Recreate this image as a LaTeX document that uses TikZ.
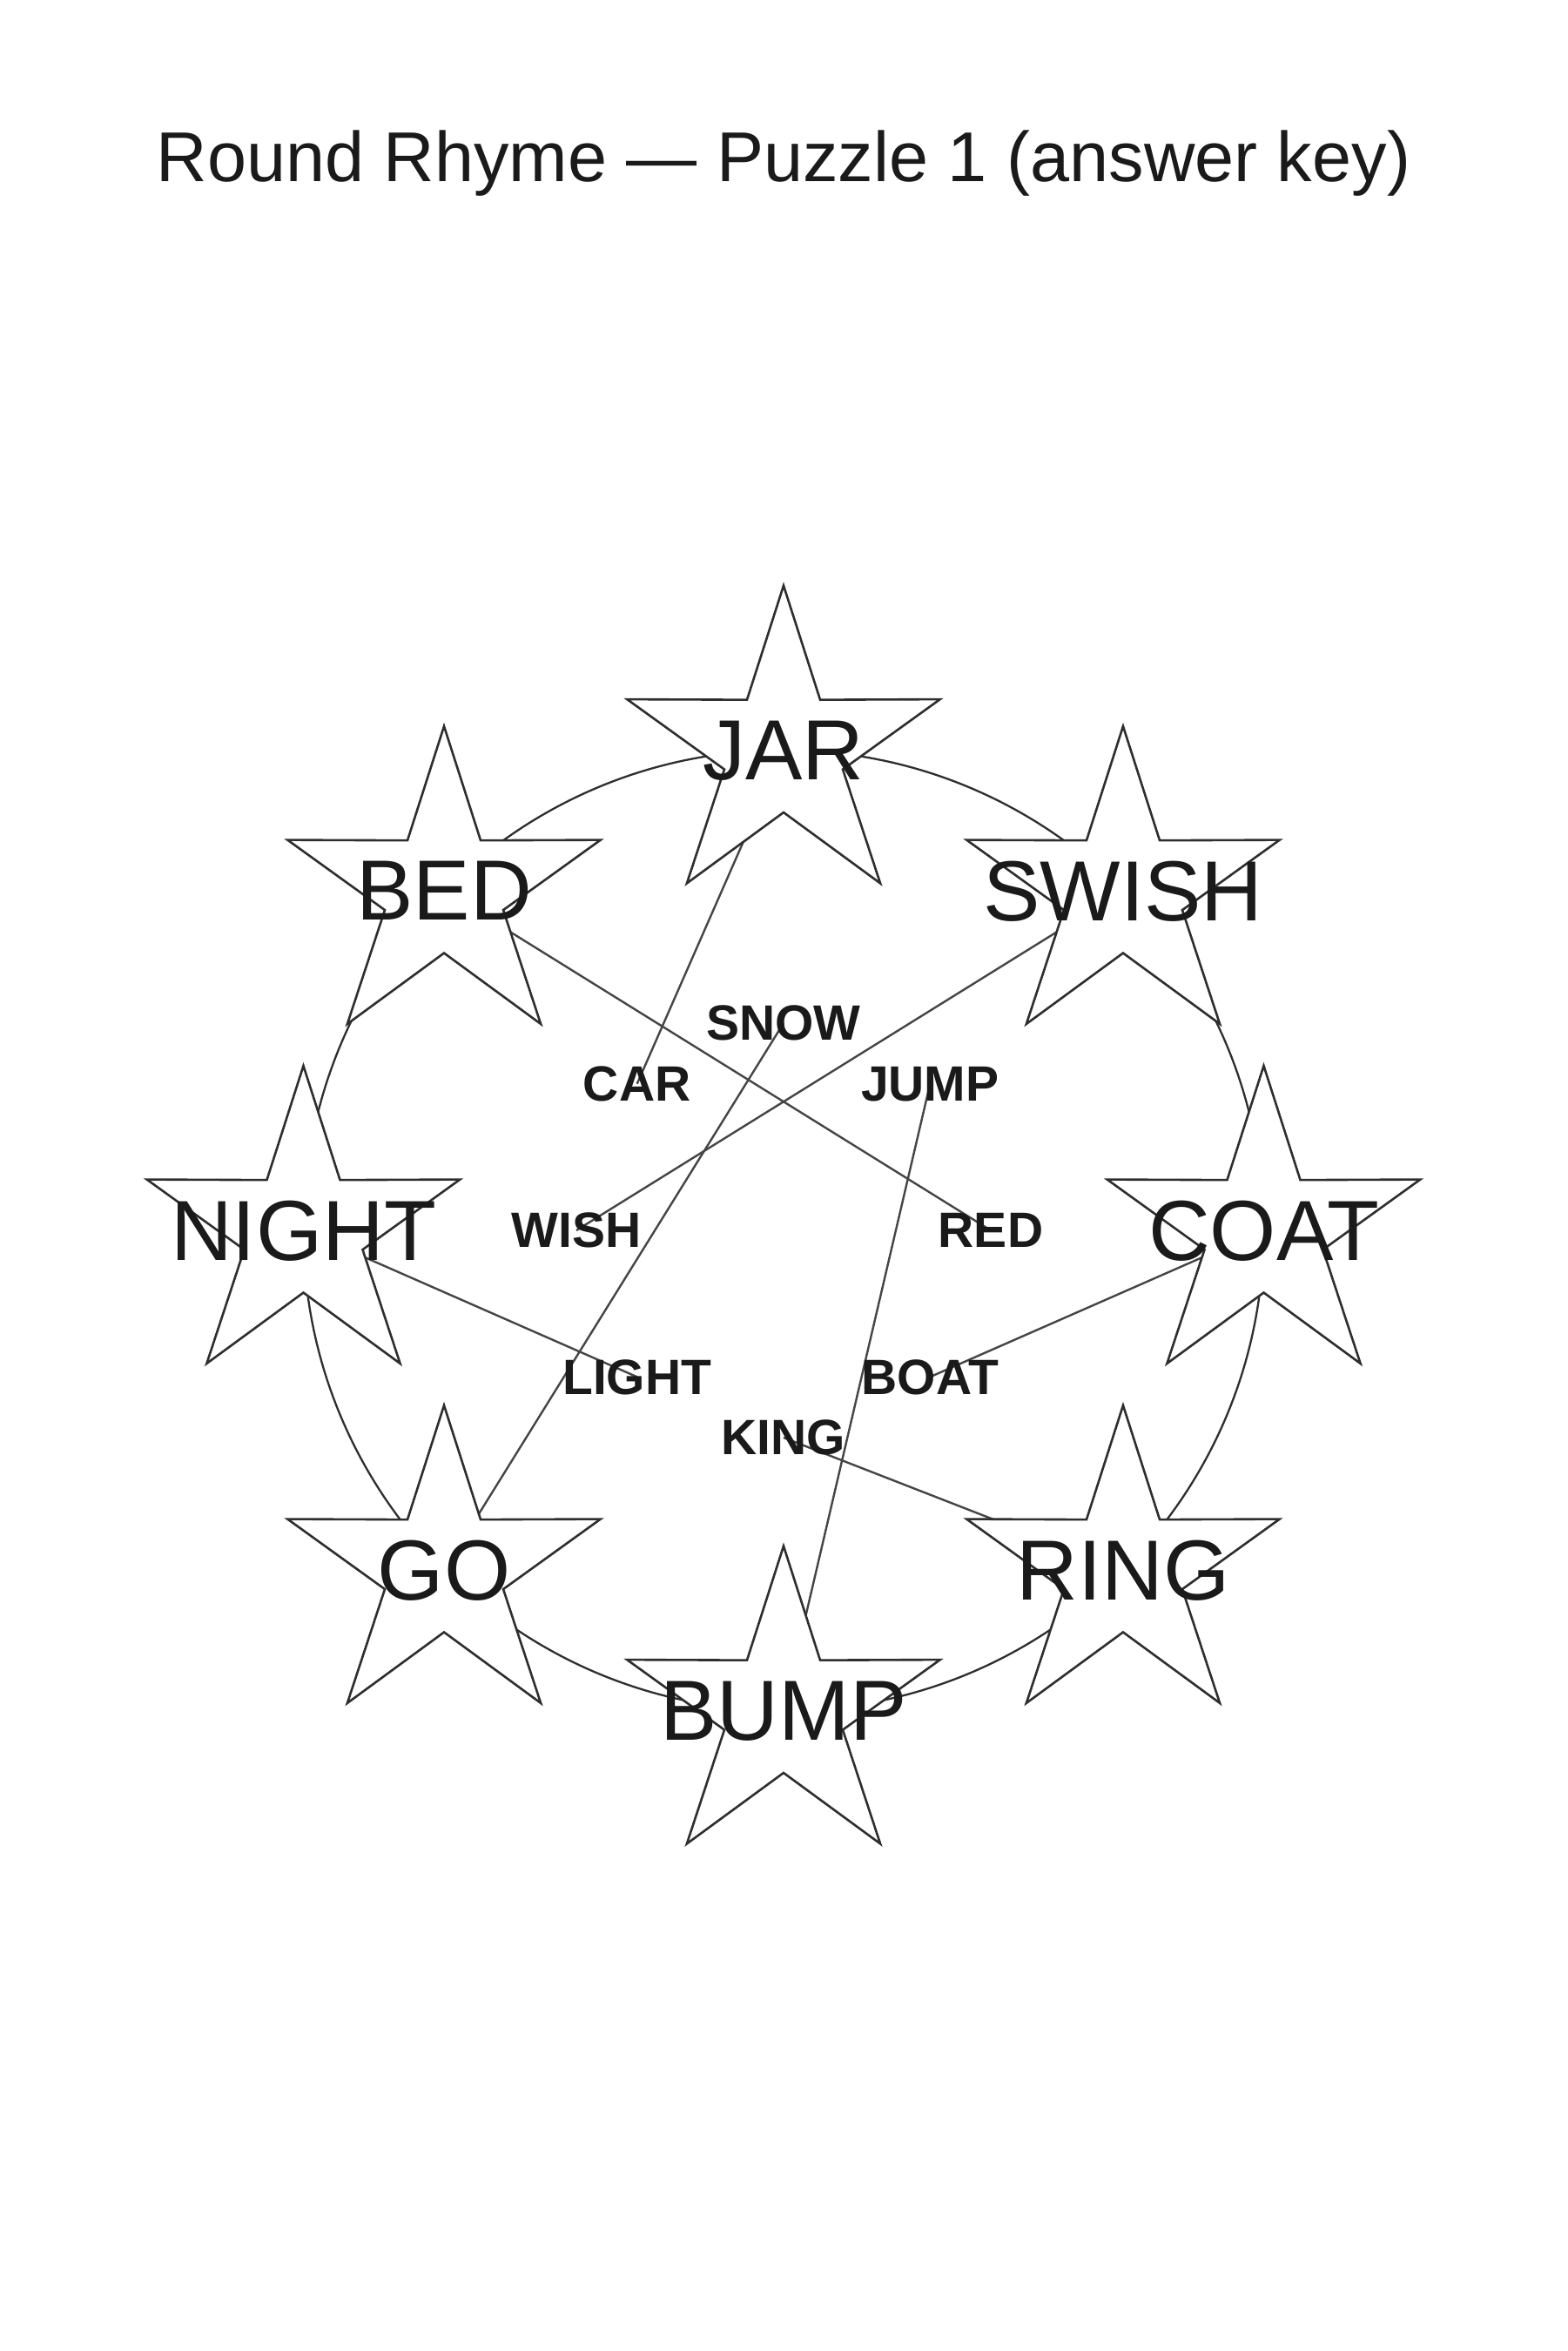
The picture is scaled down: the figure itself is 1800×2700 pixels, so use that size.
\documentclass[tikz,border=0pt]{standalone}
\usepackage{fontspec}
\setmainfont{Liberation Sans}
\usetikzlibrary{calc}
\definecolor{ink}{HTML}{1A1A1A}
\definecolor{strk}{HTML}{2E2E2E}
\definecolor{conn}{HTML}{454545}
\pgfdeclarelayer{bg}
\pgfdeclarelayer{mid}
\pgfsetlayers{bg,mid,main}
\newcommand\drawstarat[1]{%
  \draw[starshape] ($(#1.center)+(90:189pt)$)
    \foreach \k in {1,3,5,7} { -- ($(#1.center)+({90+36*\k}:71.5pt)$) -- ($(#1.center)+({126+36*\k}:189pt)$) }
    -- ($(#1.center)+(414:71.5pt)$) -- cycle;}
\begin{document}
\begin{tikzpicture}[x=1pt,y=-1pt,
  starlabel/.style={font=\fontsize{98}{98}\selectfont, text=ink, inner sep=0pt, text depth=0pt},
  word/.style={font=\fontsize{57}{57}\selectfont\bfseries, text=ink, inner sep=0pt, text depth=0pt},
  ringline/.style={draw=strk, line width=2.3pt},
  link/.style={draw=conn, line width=2.4pt},
  starshape/.style={draw=strk, fill=white, line width=2.6pt, line join=miter}]
\useasboundingbox (0,0) rectangle (1800,2700);
\node[font=\fontsize{81}{81}\selectfont, text=ink, anchor=base, inner sep=0pt] (title) at (900,208) {Round Rhyme — Puzzle 1 (answer key)};
\coordinate (c) at (900,1413);
% star labels
\foreach \n/\t/\a in {jar/JAR/90, swish/SWISH/45, coat/COAT/0, ring/RING/-45, bump/BUMP/-90, go/GO/-135, night/NIGHT/180, bed/BED/135}
  \node[starlabel] (\n) at ({900+551.5*cos(\a)}, {1413-551.5*sin(\a)}) {\t};
% inner words
\foreach \n/\t/\a in {snow/SNOW/90, jump/JUMP/45, red/RED/0, boat/BOAT/-45, king/KING/-90, light/LIGHT/-135, wish/WISH/180, car/CAR/135}
  \node[word] (\n) at ({900+238*cos(\a)}, {1413-238*sin(\a)}) {\t};
\begin{pgfonlayer}{bg}
  \draw[ringline] (c) circle[radius=551.5pt];
  \draw[link] (jar.center) -- (car.center);
  \draw[link] (bed.center) -- (red.center);
  \draw[link] (swish.center) -- (wish.center);
  \draw[link] (night.center) -- (light.center);
  \draw[link] (coat.center) -- (boat.center);
  \draw[link] (go.center) -- (snow.center);
  \draw[link] (bump.center) -- (jump.center);
  \draw[link] (ring.center) -- (king.center);
\end{pgfonlayer}
\begin{pgfonlayer}{mid}
  \foreach \n in {jar,swish,coat,ring,bump,go,night,bed} { \drawstarat{\n} }
\end{pgfonlayer}
\end{tikzpicture}
\end{document}
